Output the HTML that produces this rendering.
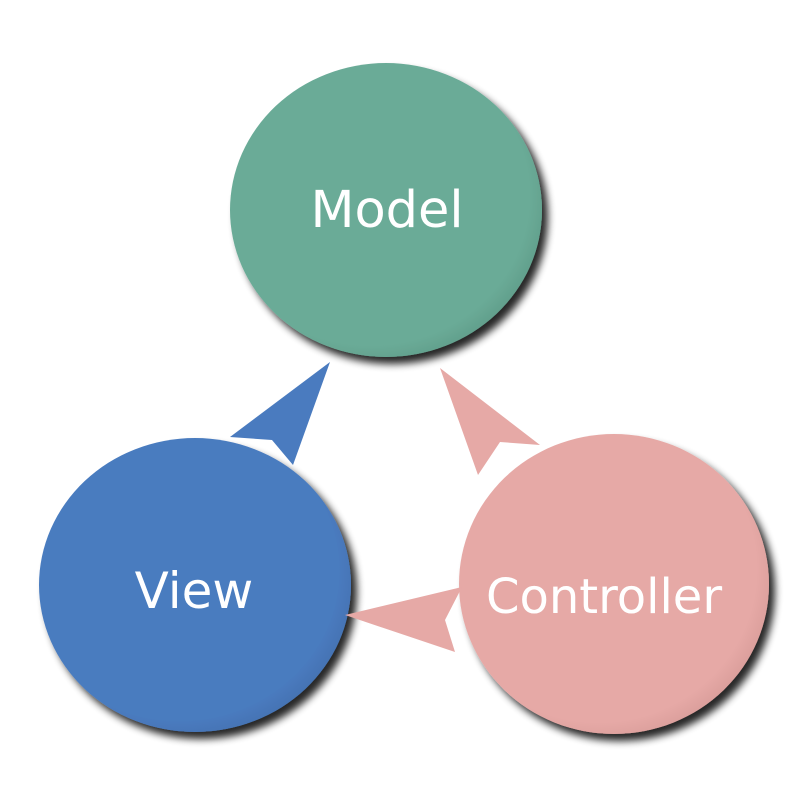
<!DOCTYPE html>
<html><head><style>
html,body{margin:0;padding:0;background:#fff;}
svg{display:block}
text{font-family:"DejaVu Sans",sans-serif;fill:#fff;}
</style></head><body>
<svg width="800" height="800" viewBox="0 0 800 800" xmlns="http://www.w3.org/2000/svg">
<defs>
<filter id="sh" x="-20%" y="-20%" width="150%" height="150%">
<feGaussianBlur in="SourceAlpha" stdDeviation="4"/>
<feOffset dx="6" dy="7" result="o"/>
<feComponentTransfer><feFuncA type="linear" slope="0.85"/></feComponentTransfer>
<feMerge><feMergeNode/><feMergeNode in="SourceGraphic"/></feMerge>
</filter>
<radialGradient id="gm" cx="45%" cy="45%" r="60%"><stop offset="0.85" stop-color="#6aab97"/><stop offset="1" stop-color="#5e9a87"/></radialGradient>
<radialGradient id="gv" cx="45%" cy="45%" r="60%"><stop offset="0.85" stop-color="#4a7bbf"/><stop offset="1" stop-color="#426fae"/></radialGradient>
<radialGradient id="gc" cx="45%" cy="45%" r="60%"><stop offset="0.85" stop-color="#e6a9a6"/><stop offset="1" stop-color="#d69a97"/></radialGradient>
</defs>
<ellipse cx="386" cy="210" rx="156" ry="147" fill="url(#gm)" filter="url(#sh)"/>
<ellipse cx="195" cy="585" rx="156" ry="147" fill="url(#gv)" filter="url(#sh)"/>
<ellipse cx="614" cy="584" rx="155" ry="150" fill="url(#gc)" filter="url(#sh)"/>
<polygon points="330,362 293,465 272,440 230,437" fill="#4a7bbf"/>
<polygon points="440,368 540,445 500,442 478,475" fill="#e6a9a6"/>
<polygon points="345,615 462,587 445,620 455,652" fill="#e6a9a6"/>
<text x="387" y="227" font-size="51" text-anchor="middle">Model</text>
<text x="194" y="608" font-size="50" text-anchor="middle">View</text>
<text x="604" y="613" font-size="48" text-anchor="middle">Controller</text>
</svg>
</body></html>
